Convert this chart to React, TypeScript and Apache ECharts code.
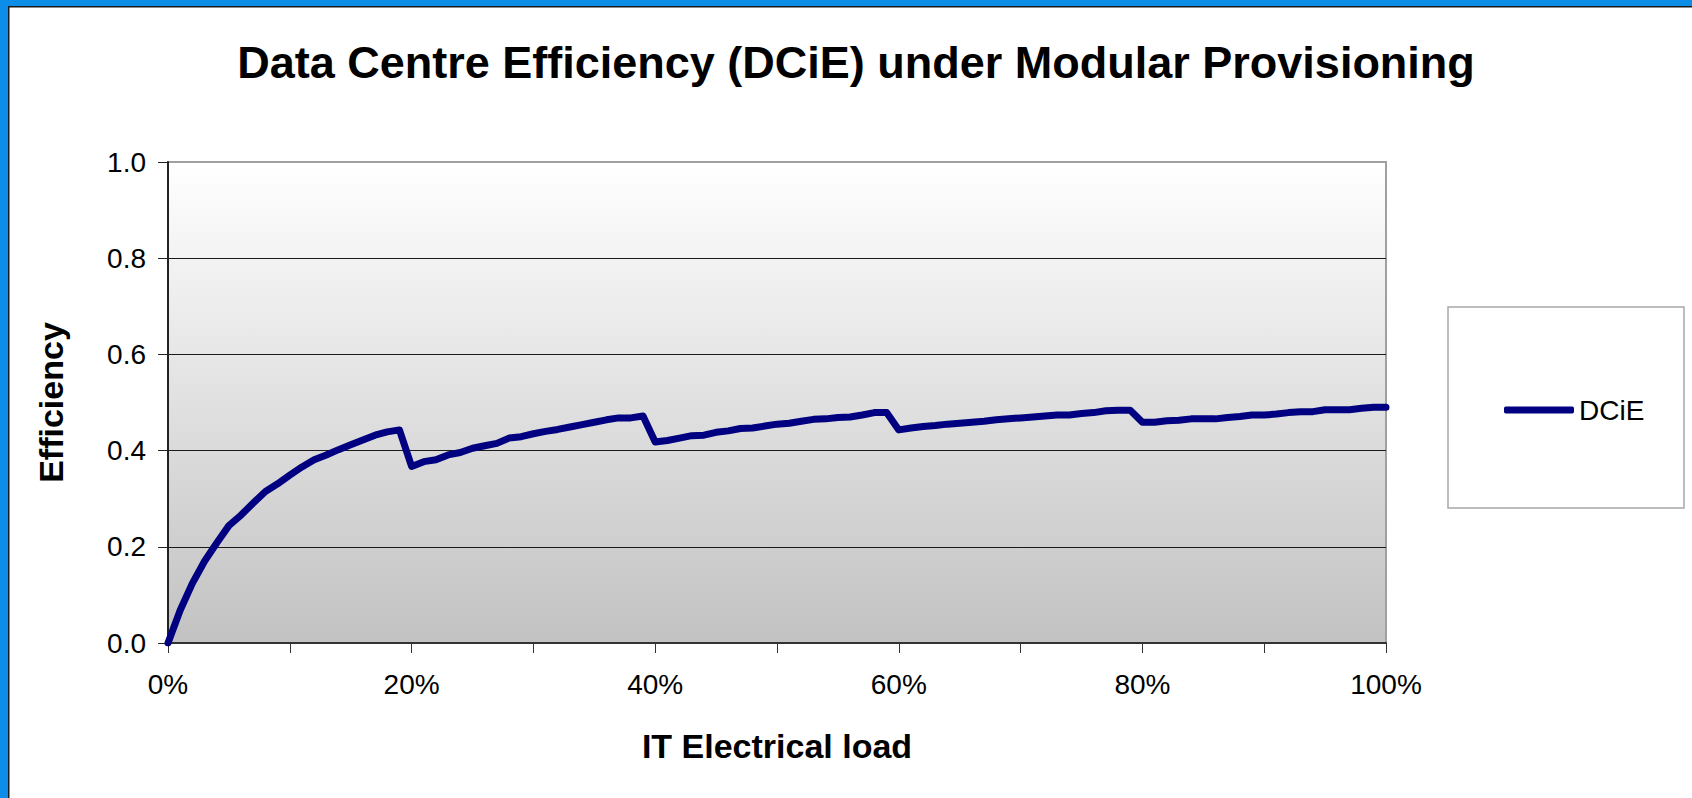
import React, { useEffect, useRef } from "react";
import * as echarts from "echarts";

const TITLE = "Data Centre Efficiency (DCiE) under Modular Provisioning";
const X_NAME = "IT Electrical load";
const Y_NAME = "Efficiency";
const SERIES_NAME = "DCiE";

// IT electrical load, 0% .. 100% in 1% steps
const loadPercent: number[] = Array.from({ length: 101 }, (_, i) => i);

// DCiE values
const dcie: number[] = [
  0.0, 0.068, 0.124, 0.17, 0.208, 0.244, 0.266, 0.291, 0.315, 0.331,
  0.349, 0.366, 0.381, 0.391, 0.402, 0.412, 0.422, 0.432, 0.439, 0.443,
  0.367, 0.377, 0.381, 0.391, 0.396, 0.405, 0.41, 0.415, 0.426, 0.429,
  0.435, 0.44, 0.444, 0.449, 0.454, 0.459, 0.464, 0.468, 0.468, 0.472,
  0.418, 0.421, 0.426, 0.431, 0.432, 0.438, 0.441, 0.446, 0.447, 0.451,
  0.455, 0.457, 0.461, 0.465, 0.466, 0.469, 0.47, 0.474, 0.479, 0.479,
  0.443, 0.447, 0.45, 0.452, 0.455, 0.457, 0.459, 0.461, 0.464, 0.466,
  0.468, 0.47, 0.472, 0.474, 0.474, 0.477, 0.479, 0.483, 0.484, 0.484,
  0.459, 0.459, 0.462, 0.463, 0.466, 0.466, 0.466, 0.469, 0.471, 0.474,
  0.474, 0.476, 0.479, 0.481, 0.481, 0.485, 0.485, 0.485, 0.488, 0.49,
  0.49,
];

const Y_MIN = 0;
const Y_MAX = 1;
const Y_STEP = 0.2;

const FONT = "'Liberation Sans', Arial, sans-serif";

export default function App() {
  const ref = useRef<HTMLDivElement>(null);

  useEffect(() => {
    if (!ref.current) return;
    const chart = echarts.init(ref.current, undefined, { renderer: "svg" });
    const W = 1692;
    const H = 798;
    const plotL = 168;
    const plotT = 162;
    const plotR = 1386;
    const plotB = 643;

    chart.setOption({
      animation: false,
      backgroundColor: "#ffffff",
      textStyle: { fontFamily: FONT },
      title: {
        text: TITLE,
        left: 851,
        top: 35,
        textAlign: "center",
        textStyle: {
          fontFamily: FONT,
          fontSize: 45,
          fontWeight: "bold",
          color: "#000000",
        },
      },
      graphic: [
        { type: "rect", z: 100, shape: { x: 0, y: 0, width: W, height: 6 }, style: { fill: "#0c8de8" } },
        { type: "rect", z: 100, shape: { x: 0, y: 0, width: 8, height: H }, style: { fill: "#0c8de8" } },
        { type: "rect", z: 100, shape: { x: 8, y: 6, width: W - 8, height: 1.5 }, style: { fill: "#1a1a1a" } },
        { type: "rect", z: 100, shape: { x: 8, y: 6, width: 1.5, height: H - 6 }, style: { fill: "#1a1a1a" } },
        {
          type: "rect",
          z: 1,
          shape: { x: 1448, y: 307, width: 236, height: 201 },
          style: { fill: "#ffffff", stroke: "#a8a8a8", lineWidth: 1.5 },
        },
      ],
      legend: {
        data: [{ name: SERIES_NAME, icon: "roundRect" }],
        left: 1499,
        top: 391,
        itemWidth: 70,
        itemHeight: 7,
        itemStyle: { color: "#000080" },
        textStyle: { fontFamily: FONT, fontSize: 28, color: "#000000" },
        z: 10,
      },
      grid: {
        left: plotL,
        top: plotT,
        right: W - plotR,
        bottom: H - plotB,
        show: true,
        borderColor: "#a0a0a0",
        borderWidth: 2,
        backgroundColor: new echarts.graphic.LinearGradient(0, 0, 0, 1, [
          { offset: 0, color: "#ffffff" },
          { offset: 1, color: "#c2c2c2" },
        ]),
      },
      xAxis: {
        type: "category",
        data: loadPercent,
        boundaryGap: false,
        name: X_NAME,
        nameLocation: "middle",
        nameGap: 86,
        nameTextStyle: { fontFamily: FONT, fontSize: 34, fontWeight: "bold", color: "#000000" },
        axisLine: { show: true, lineStyle: { color: "#333333", width: 2 } },
        axisTick: {
          show: true,
          length: 10,
          interval: (idx: number) => idx % 10 === 0,
          lineStyle: { color: "#333333", width: 1 },
        },
        axisLabel: {
          interval: (idx: number) => idx % 20 === 0,
          formatter: (v: string) => `${v}%`,
          fontFamily: FONT,
          fontSize: 28,
          color: "#000000",
          margin: 27,
        },
        splitLine: { show: false },
      },
      yAxis: {
        type: "value",
        min: Y_MIN,
        max: Y_MAX,
        interval: Y_STEP,
        name: Y_NAME,
        nameLocation: "middle",
        nameRotate: 90,
        nameGap: 100,
        nameTextStyle: { fontFamily: FONT, fontSize: 34, fontWeight: "bold", color: "#000000" },
        axisLine: { show: true, lineStyle: { color: "#222222", width: 2 } },
        axisTick: { show: true, length: 10, lineStyle: { color: "#222222", width: 1 } },
        axisLabel: {
          formatter: (v: number) => v.toFixed(1),
          fontFamily: FONT,
          fontSize: 28,
          color: "#000000",
          margin: 22,
        },
        splitLine: {
          show: true,
          showMinLine: false,
          showMaxLine: false,
          lineStyle: { color: "#1a1a1a", width: 1 },
        },
      },
      series: [
        {
          name: SERIES_NAME,
          type: "line",
          data: dcie,
          symbol: "none",
          lineStyle: { color: "#000080", width: 7, cap: "round", join: "round" },
          itemStyle: { color: "#000080" },
          z: 5,
        },
      ],
    });

    return () => chart.dispose();
  }, []);

  return (
    <div
      ref={ref}
      style={{ position: "fixed", left: 0, top: 0, width: 1692, height: 798 }}
    />
  );
}
